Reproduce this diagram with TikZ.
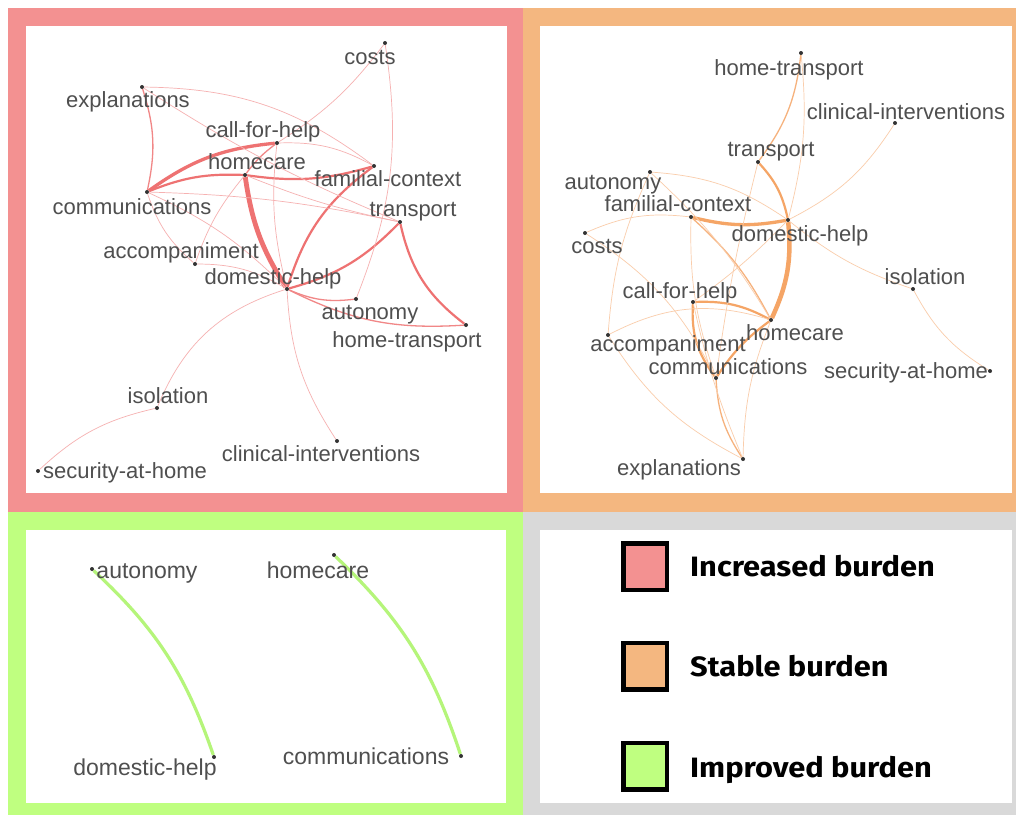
\documentclass[tikz,border=0pt]{standalone}
\usepackage{fontspec}
\setmainfont{Liberation Sans}
\newfontfamily\legfont{Fira Sans}
\definecolor{pinkB}{HTML}{F39191}
\definecolor{orangeB}{HTML}{F4B780}
\definecolor{greenB}{HTML}{BFFF80}
\definecolor{grayB}{HTML}{D9D9D9}
\definecolor{pinkE}{HTML}{EE7272}
\definecolor{orangeE}{HTML}{F5A566}
\definecolor{greenE}{HTML}{B5F57A}
\definecolor{dotc}{HTML}{333333}
\definecolor{labc}{HTML}{4F4F4F}
\pgfdeclarelayer{panels}
\pgfdeclarelayer{edges}
\pgfsetlayers{panels,edges,main}
\begin{document}
\begin{tikzpicture}[x=1pt,y=-1pt,
  dot/.style={circle,fill=dotc,inner sep=0pt,minimum size=4pt},
  lbl/.style={text=labc,font=\fontsize{22}{24}\selectfont,inner sep=0pt,text height=16pt,text depth=4pt},
  lblb/.style={text=labc,font=\fontsize{23}{25}\selectfont,inner sep=0pt,text height=16.5pt,text depth=4.5pt},
  p1/.style={draw=pinkE!55,line width=0.7pt},
  p2/.style={draw=pinkE!85,line width=1.3pt},
  p3/.style={draw=pinkE,line width=2.2pt},
  p4/.style={draw=pinkE,line width=3.3pt},
  p5/.style={draw=pinkE,line width=4.8pt},
  o1/.style={draw=orangeE!55,line width=0.7pt},
  o2/.style={draw=orangeE!85,line width=1.3pt},
  o3/.style={draw=orangeE,line width=2.2pt},
  o4/.style={draw=orangeE,line width=3.3pt},
  o5/.style={draw=orangeE,line width=4.5pt},
  g1/.style={draw=greenE,line width=3.2pt},
  legbox/.style={draw=black,line width=4.5pt,minimum width=43.5pt,minimum height=46.5pt,inner sep=0pt},
  legtxt/.style={anchor=base west,inner sep=0pt,font=\legfont\bfseries\fontsize{28}{30}\selectfont,text=black}
]
\useasboundingbox (0,0) rectangle (1016,815);
\begin{pgfonlayer}{panels}
\fill[white] (0,0) rectangle (1016,815);
\fill[pinkB] (8,8) rectangle (523,512);
\fill[white] (26,26) rectangle (507,493);
\fill[orangeB] (523,8) rectangle (1016,512);
\fill[white] (540,26) rectangle (1012,493);
\fill[greenB] (8,512) rectangle (523,815);
\fill[white] (26,530) rectangle (506,803);
\fill[grayB] (523,512) rectangle (1016,815);
\fill[white] (540,530) rectangle (1012,803);
\end{pgfonlayer}

% ---------- top-left: increased burden ----------
\node[dot] (tl-cos) at (385,43) {};
\node[dot] (tl-exp) at (142,87) {};
\node[dot] (tl-cfh) at (277,143) {};
\node[dot] (tl-hom) at (245,175) {};
\node[dot] (tl-fam) at (374,166) {};
\node[dot] (tl-com) at (147,192) {};
\node[dot] (tl-tra) at (400,222) {};
\node[dot] (tl-acc) at (195,264) {};
\node[dot] (tl-dom) at (287,289) {};
\node[dot] (tl-aut) at (356,299) {};
\node[dot] (tl-htr) at (466,325) {};
\node[dot] (tl-iso) at (157,408) {};
\node[dot] (tl-cli) at (337,441) {};
\node[dot] (tl-sec) at (38,471) {};

\begin{pgfonlayer}{edges}
\draw[p5] (tl-hom) to[bend right=12] (tl-dom);
\draw[p4] (tl-com) to[bend left=15] (tl-cfh);
\draw[p3] (tl-com) to[bend left=12] (tl-hom);
\draw[p3] (tl-fam) to[bend right=18] (tl-dom);
\draw[p3] (tl-tra) to[bend left=15] (tl-dom);
\draw[p3] (tl-tra) to[bend right=20] (tl-htr);
\draw[p2] (tl-exp) to[bend left=15] (tl-com);
\draw[p3] (tl-hom) to[bend right=12] (tl-fam);
\draw[p1] (tl-cfh) to[bend left=15] (tl-fam);
\draw[p2] (tl-cfh) to[bend right=8] (tl-hom);
\draw[p1] (tl-cfh) to[bend right=10] (tl-cos);
\draw[p1] (tl-cos) to[bend left=15] (tl-aut);
\draw[p1] (tl-exp) to[bend right=5] (tl-tra);
\draw[p1] (tl-exp) to[bend left=18] (tl-fam);
\draw[p1] (tl-hom) to[bend right=5] (tl-tra);
\draw[p1] (tl-com) to[bend left=5] (tl-tra);
\draw[p1] (tl-com) to[bend left=10] (tl-dom);
\draw[p1] (tl-com) to[bend right=15] (tl-acc);
\draw[p1] (tl-acc) to[bend left=10] (tl-hom);
\draw[p1] (tl-acc) to[bend left=15] (tl-dom);
\draw[p1] (tl-cfh) to[bend right=10] (tl-dom);
\draw[p2] (tl-dom) to[bend right=15] (tl-aut);
\draw[p2] (tl-dom) to[bend right=15] (tl-htr);
\draw[p1] (tl-dom) to[bend right=25] (tl-iso);
\draw[p1] (tl-dom) to[bend right=15] (tl-cli);
\draw[p1] (tl-iso) to[bend right=15] (tl-sec);
\end{pgfonlayer}

\node[lbl] (tlL-cos) at (370,58) {costs};
\node[lbl] (tlL-exp) at (128,101) {explanations};
\node[lbl] (tlL-cfh) at (263,131) {call-for-help};
\node[lbl] (tlL-hom) at (257,163) {homecare};
\node[lbl] (tlL-fam) at (388,180) {familial-context};
\node[lbl] (tlL-com) at (132,208) {communications};
\node[lbl] (tlL-tra) at (413,210) {transport};
\node[lbl] (tlL-acc) at (181,252) {accompaniment};
\node[lbl] (tlL-dom) at (273,278) {domestic-help};
\node[lbl] (tlL-aut) at (370,313) {autonomy};
\node[lbl] (tlL-htr) at (407,341) {home-transport};
\node[lbl] (tlL-iso) at (168,397) {isolation};
\node[lbl] (tlL-cli) at (321,455) {clinical-interventions};
\node[lbl] (tlL-sec) at (125,472) {security-at-home};

% ---------- top-right: stable burden ----------
\node[dot] (tr-htr) at (801,53) {};
\node[dot] (tr-cli) at (895,123) {};
\node[dot] (tr-tra) at (758,162) {};
\node[dot] (tr-aut) at (650,172) {};
\node[dot] (tr-fam) at (691,217) {};
\node[dot] (tr-dom) at (788,220) {};
\node[dot] (tr-cos) at (585,233) {};
\node[dot] (tr-iso) at (913,289) {};
\node[dot] (tr-cfh) at (693,302) {};
\node[dot] (tr-hom) at (771,320) {};
\node[dot] (tr-acc) at (608,335) {};
\node[dot] (tr-com) at (716,378) {};
\node[dot] (tr-sec) at (990,371) {};
\node[dot] (tr-exp) at (743,459) {};

\begin{pgfonlayer}{edges}
\draw[o5] (tr-dom) to[bend left=15] (tr-hom);
\draw[o4] (tr-fam) to[bend right=12] (tr-dom);
\draw[o3] (tr-cfh) to[bend left=15] (tr-hom);
\draw[o3] (tr-cfh) to[bend right=20] (tr-com);
\draw[o3] (tr-hom) to[bend right=10] (tr-com);
\draw[o3] (tr-tra) to[bend left=15] (tr-dom);
\draw[o2] (tr-tra) to[bend right=15] (tr-htr);
\draw[o2] (tr-com) to[bend right=15] (tr-exp);
\draw[o2] (tr-fam) to[bend left=10] (tr-hom);
\draw[o1] (tr-dom) to[bend right=15] (tr-cli);
\draw[o1] (tr-dom) to[bend right=10] (tr-iso);
\draw[o1] (tr-iso) to[bend right=15] (tr-sec);
\draw[o1] (tr-htr) to[bend left=10] (tr-dom);
\draw[o1] (tr-aut) to[bend left=15] (tr-dom);
\draw[o1] (tr-aut) to[bend right=10] (tr-acc);
\draw[o1] (tr-aut) to[bend left=8] (tr-hom);
\draw[o1] (tr-cos) to[bend left=15] (tr-fam);
\draw[o1] (tr-cos) to[bend left=15] (tr-com);
\draw[o1] (tr-acc) to[bend left=22] (tr-hom);
\draw[o1] (tr-fam) to[bend right=10] (tr-com);
\draw[o1] (tr-tra) to[bend right=3] (tr-com);
\draw[o1] (tr-dom) to[bend left=5] (tr-cfh);
\draw[o1] (tr-hom) to[bend right=10] (tr-exp);
\draw[o1] (tr-acc) to[bend right=15] (tr-exp);
\draw[o1] (tr-cfh) to[bend right=5] (tr-exp);
\end{pgfonlayer}

\node[lbl] (trL-htr) at (789,69) {home-transport};
\node[lbl] (trL-cli) at (906,113) {clinical-interventions};
\node[lbl] (trL-tra) at (771,150) {transport};
\node[lbl] (trL-aut) at (613,183) {autonomy};
\node[lbl] (trL-fam) at (678,205) {familial-context};
\node[lbl] (trL-dom) at (800,235) {domestic-help};
\node[lbl] (trL-cos) at (597,247) {costs};
\node[lbl] (trL-iso) at (925,278) {isolation};
\node[lbl] (trL-cfh) at (680,292) {call-for-help};
\node[lbl] (trL-hom) at (795,334) {homecare};
\node[lbl] (trL-acc) at (668,345) {accompaniment};
\node[lbl] (trL-com) at (728,368) {communications};
\node[lbl] (trL-sec) at (906,372) {security-at-home};
\node[lbl] (trL-exp) at (679,469) {explanations};

% ---------- bottom-left: improved burden ----------
\node[dot] (bl-aut) at (92,569) {};
\node[dot] (bl-hom) at (334,555) {};
\node[dot] (bl-dom) at (214,757) {};
\node[dot] (bl-com) at (461,756) {};
\begin{pgfonlayer}{edges}
\draw[g1] (bl-aut) to[bend left=14] (bl-dom);
\draw[g1] (bl-hom) to[bend left=14] (bl-com);
\end{pgfonlayer}
\node[lblb] (blL-aut) at (147,572) {autonomy};
\node[lblb] (blL-hom) at (318,572) {homecare};
\node[lblb] (blL-dom) at (145,769) {domestic-help};
\node[lblb] (blL-com) at (366,758) {communications};

% ---------- legend ----------
\node[legbox,fill=pinkB] (lg-inc) at (645,566.5) {};
\node[legbox,fill=orangeB] (lg-sta) at (645,666) {};
\node[legbox,fill=greenB] (lg-imp) at (645,766) {};
\node[legtxt] (lgT-inc) at (690,576) {\scalebox{1.1}[1]{Increased burden}};
\node[legtxt] (lgT-sta) at (690,676) {\scalebox{1.1}[1]{Stable burden}};
\node[legtxt] (lgT-imp) at (690,777) {\scalebox{1.1}[1]{Improved burden}};
\end{tikzpicture}
\end{document}
